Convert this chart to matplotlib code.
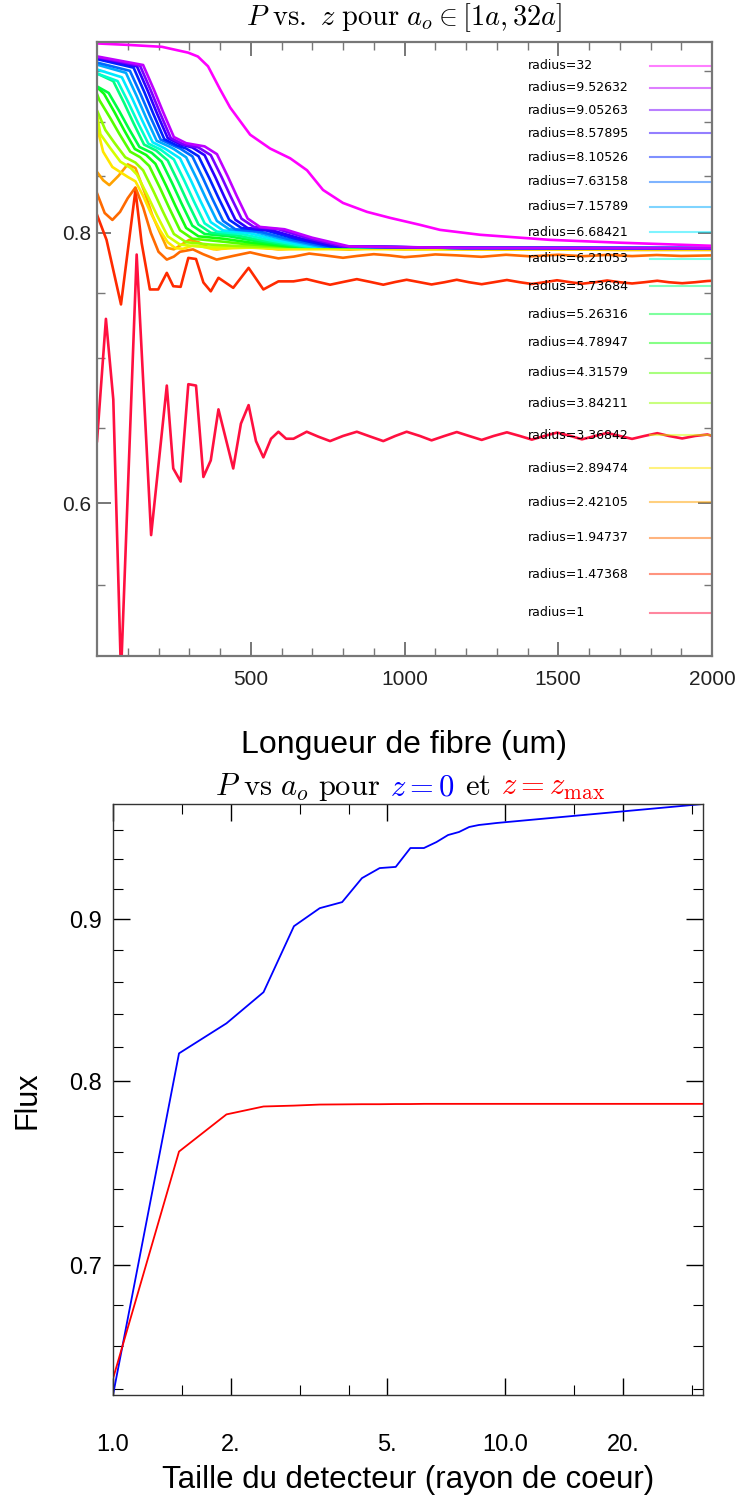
import matplotlib
matplotlib.use("Agg")
import matplotlib.pyplot as plt
from matplotlib.ticker import FixedLocator, FixedFormatter, NullFormatter
import numpy as np

plt.rcParams["mathtext.fontset"] = "cm"

# ---------------- data ----------------
radius = [1, 1.47368, 1.94737, 2.42105, 2.89474, 3.36842, 3.84211, 4.31579, 4.78947, 5.26316,
          5.73684, 6.21053, 6.68421, 7.15789, 7.63158, 8.10526, 8.57895, 9.05263, 9.52632, 32]
radius_labels = ["radius=1", "radius=1.47368", "radius=1.94737", "radius=2.42105", "radius=2.89474",
                 "radius=3.36842", "radius=3.84211", "radius=4.31579", "radius=4.78947", "radius=5.26316",
                 "radius=5.73684", "radius=6.21053", "radius=6.68421", "radius=7.15789", "radius=7.63158",
                 "radius=8.10526", "radius=8.57895", "radius=9.05263", "radius=9.52632", "radius=32"]

# flux at z=0 and z=zmax vs detector radius (bottom panel)
flux_z0 = [0.637, 0.8164, 0.8344, 0.8535, 0.8954, 0.9072, 0.9112, 0.9272, 0.934, 0.9348,
           0.9477, 0.9477, 0.9518, 0.9567, 0.9588, 0.9623, 0.9637, 0.9644, 0.9651, 0.9785]
flux_zmax = [0.6446, 0.7602, 0.781, 0.7855, 0.786, 0.7866, 0.7867, 0.7868, 0.7868, 0.7869,
             0.7869, 0.787, 0.787, 0.787, 0.787, 0.787, 0.787, 0.787, 0.787, 0.787]

# P vs z curves (top panel), one pair per radius
z_01 = [0, 29, 53, 78, 129, 176, 227, 248, 272, 297, 322, 346, 370, 395, 443, 468, 493, 517, 541,
        566, 590, 615, 639, 682, 720, 758, 800, 845, 890, 931, 970, 1007, 1050, 1088, 1130, 1170,
        1210, 1251, 1290, 1333, 1375, 1414, 1455, 1496, 1540, 1577, 1620, 1659, 1700, 1740, 1780,
        1822, 1860, 1903, 1945, 1985, 2000]
p_01 = [0.641, 0.730, 0.670, 0.500, 0.7817, 0.580, 0.680, 0.6226, 0.614, 0.681, 0.680, 0.617, 0.628,
        0.663, 0.6226, 0.653, 0.666, 0.641, 0.630, 0.6426, 0.6474, 0.6426, 0.6426, 0.6474, 0.644,
        0.641, 0.6445, 0.6474, 0.644, 0.641, 0.6445, 0.6474, 0.6445, 0.6415, 0.6445, 0.6472, 0.6445,
        0.6418, 0.6445, 0.647, 0.6445, 0.642, 0.6445, 0.6468, 0.6445, 0.6422, 0.6445, 0.6466, 0.6445,
        0.6425, 0.6445, 0.6464, 0.6445, 0.6428, 0.6445, 0.6455, 0.6446]

z_02 = [0, 31, 78, 125, 145, 172, 199, 227, 248, 272, 297, 322, 346, 370, 395, 443, 493, 541, 590,
        639, 682, 720, 758, 800, 845, 890, 931, 970, 1007, 1050, 1088, 1130, 1170, 1210, 1251, 1290,
        1333, 1375, 1414, 1455, 1496, 1540, 1577, 1620, 1659, 1700, 1740, 1780, 1822, 1860, 1903,
        1945, 1985, 2000]
p_02 = [0.8155, 0.794, 0.7413, 0.837, 0.7916, 0.7532, 0.7532, 0.7666, 0.7558, 0.7553, 0.7789, 0.778,
        0.7588, 0.7517, 0.7626, 0.7545, 0.7707, 0.7532, 0.7597, 0.7597, 0.7615, 0.7592, 0.757, 0.7592,
        0.7615, 0.7592, 0.757, 0.7592, 0.761, 0.759, 0.7572, 0.759, 0.761, 0.759, 0.7574, 0.759,
        0.7608, 0.759, 0.7576, 0.759, 0.7606, 0.759, 0.7578, 0.759, 0.7604, 0.759, 0.758, 0.759,
        0.7602, 0.759, 0.7582, 0.759, 0.760, 0.7602]

z_03 = [0, 25, 50, 75, 100, 125, 150, 175, 200, 227, 250, 270, 312, 345, 389, 442, 498, 540, 590,
        640, 690, 740, 800, 845, 900, 950, 1000, 1050, 1100, 1170, 1250, 1330, 1410, 1500, 1580,
        1660, 1740, 1820, 1900, 2000]
p_03 = [0.8344, 0.817, 0.811, 0.818, 0.830, 0.8395, 0.822, 0.800, 0.784, 0.7775, 0.780, 0.784, 0.786,
        0.782, 0.7775, 0.7805, 0.7835, 0.781, 0.7785, 0.780, 0.7825, 0.781, 0.779, 0.7805, 0.782,
        0.781, 0.7795, 0.7805, 0.7818, 0.781, 0.7798, 0.7815, 0.7802, 0.7815, 0.7803, 0.7814, 0.7804,
        0.7813, 0.7805, 0.781]

z_04 = [0, 20, 40, 70, 100, 125, 156, 180, 205, 227, 250, 275, 300, 330, 360, 389, 440, 498, 540,
        590, 640, 700, 760, 820, 900, 1000, 1100, 1300, 1500, 1700, 2000]
p_04 = [0.8535, 0.846, 0.8416, 0.850, 0.8604, 0.857, 0.8344, 0.815, 0.800, 0.7874, 0.786, 0.790,
        0.794, 0.792, 0.788, 0.786, 0.788, 0.7895, 0.7875, 0.786, 0.7868, 0.7878, 0.7865, 0.7858,
        0.787, 0.786, 0.7862, 0.7857, 0.786, 0.7855, 0.7855]

z_05 = [0, 20, 50, 100, 125, 150, 175, 205, 230, 255, 280, 310, 340, 380, 440, 500, 600, 800, 1200, 2000]
p_05 = [0.8954, 0.872, 0.858, 0.849, 0.845, 0.832, 0.817, 0.802, 0.792, 0.787, 0.7865, 0.789, 0.7885,
        0.786, 0.787, 0.7875, 0.786, 0.7862, 0.786, 0.786]

z_06 = [0, 11, 41, 76, 110, 130, 165, 195, 230, 270, 350, 440, 560, 1200, 2000]
p_06 = [0.9072, 0.8885, 0.8762, 0.8629, 0.857, 0.851, 0.832, 0.815, 0.797, 0.790, 0.788, 0.7878,
        0.7874, 0.787, 0.7866]

z_07 = [0, 27, 57, 92, 125, 150, 185, 215, 250, 290, 370, 460, 580, 1200, 2000]
p_07 = [0.9112, 0.8925, 0.8802, 0.8669, 0.862, 0.855, 0.8354, 0.8179, 0.799, 0.792, 0.790, 0.7888,
        0.788, 0.7872, 0.7867]

z_08 = [0, 8, 43, 73, 108, 140, 170, 205, 235, 270, 310, 390, 480, 600, 1200, 2000]
p_08 = [0.9272, 0.9211, 0.9039, 0.8886, 0.8721, 0.867, 0.8589, 0.839, 0.8213, 0.8021, 0.795, 0.793,
        0.7905, 0.7885, 0.7872, 0.7868]

z_09 = [0, 23, 58, 88, 123, 160, 190, 225, 255, 290, 330, 410, 500, 620, 1200, 2000]
p_09 = [0.934, 0.9274, 0.9089, 0.8924, 0.8746, 0.869, 0.8609, 0.841, 0.8233, 0.8041, 0.797, 0.795,
        0.7917, 0.7885, 0.7872, 0.7868]

z_10 = [0, 38, 73, 103, 138, 178, 210, 245, 275, 310, 350, 430, 520, 640, 1200, 2000]
p_10 = [0.9348, 0.9283, 0.9102, 0.894, 0.8765, 0.871, 0.8629, 0.843, 0.8253, 0.8061, 0.799, 0.797,
        0.7928, 0.7885, 0.7872, 0.7869]

z_11 = [0, 53, 88, 118, 153, 193, 230, 265, 295, 330, 370, 450, 540, 660, 1200, 2000]
p_11 = [0.9477, 0.940, 0.9186, 0.8994, 0.8787, 0.873, 0.8639, 0.844, 0.8263, 0.8071, 0.800, 0.798,
        0.7933, 0.7885, 0.7872, 0.7869]

z_12 = [0, 67, 102, 132, 167, 207, 250, 285, 315, 350, 390, 470, 560, 680, 1200, 2000]
p_12 = [0.9477, 0.9401, 0.9189, 0.900, 0.8796, 0.874, 0.8649, 0.845, 0.8273, 0.8081, 0.801, 0.799,
        0.7938, 0.7885, 0.7872, 0.787]

z_13 = [0, 81, 116, 146, 181, 221, 270, 305, 335, 370, 410, 490, 580, 700, 1200, 2000]
p_13 = [0.9518, 0.9439, 0.9219, 0.9022, 0.8809, 0.875, 0.8659, 0.846, 0.8283, 0.8091, 0.802, 0.800,
        0.7943, 0.7885, 0.7872, 0.787]

z_14 = [0, 94, 129, 159, 194, 234, 250, 290, 325, 355, 390, 430, 510, 600, 720, 1200, 2000]
p_14 = [0.9567, 0.9484, 0.9253, 0.9046, 0.8823, 0.877, 0.8745, 0.8669, 0.847, 0.8293, 0.8101, 0.803,
        0.801, 0.7948, 0.7885, 0.7872, 0.787]

z_15 = [0, 107, 142, 172, 207, 247, 270, 310, 345, 375, 410, 450, 530, 620, 740, 1200, 2000]
p_15 = [0.9588, 0.9504, 0.927, 0.906, 0.8834, 0.878, 0.875, 0.8678, 0.8476, 0.8296, 0.8102, 0.803,
        0.801, 0.7948, 0.7885, 0.7872, 0.787]

z_16 = [0, 119, 154, 184, 219, 259, 290, 330, 365, 395, 430, 470, 550, 640, 760, 1200, 2000]
p_16 = [0.9623, 0.9536, 0.9291, 0.9073, 0.8837, 0.878, 0.875, 0.8679, 0.848, 0.8303, 0.8111, 0.804,
        0.802, 0.7953, 0.7885, 0.7872, 0.787]

z_17 = [0, 130, 165, 195, 230, 270, 310, 350, 385, 415, 450, 490, 570, 660, 780, 1200, 2000]
p_17 = [0.9637, 0.9549, 0.9304, 0.9084, 0.8848, 0.879, 0.876, 0.8688, 0.8486, 0.8306, 0.8112, 0.804,
        0.802, 0.7953, 0.7885, 0.7872, 0.787]

z_18 = [0, 140, 175, 205, 240, 280, 330, 370, 405, 435, 470, 510, 590, 680, 800, 1200, 2000]
p_18 = [0.9644, 0.9556, 0.9308, 0.9087, 0.8848, 0.879, 0.876, 0.8689, 0.849, 0.8313, 0.8121, 0.805,
        0.803, 0.7958, 0.7885, 0.7872, 0.787]

z_19 = [0, 150, 185, 215, 250, 290, 350, 390, 425, 455, 490, 530, 610, 700, 820, 1200, 2000]
p_19 = [0.9651, 0.9563, 0.9316, 0.9096, 0.8858, 0.880, 0.877, 0.8698, 0.8496, 0.8316, 0.8122, 0.805,
        0.803, 0.7958, 0.7885, 0.7872, 0.787]

z_20 = [0, 100, 211, 296, 328, 361, 400, 433, 498, 563, 628, 683, 735, 800, 878, 953, 1050, 1115,
        1246, 1473, 1701, 2000]
p_20 = [0.9785, 0.977, 0.975, 0.969, 0.965, 0.955, 0.932, 0.914, 0.888, 0.875, 0.866, 0.855, 0.8373,
        0.8258, 0.818, 0.8128, 0.8068, 0.8025, 0.7983, 0.794, 0.7916, 0.789]

curves_z = [z_01, z_02, z_03, z_04, z_05, z_06, z_07, z_08, z_09, z_10,
            z_11, z_12, z_13, z_14, z_15, z_16, z_17, z_18, z_19, z_20]
curves_p = [p_01, p_02, p_03, p_04, p_05, p_06, p_07, p_08, p_09, p_10,
            p_11, p_12, p_13, p_14, p_15, p_16, p_17, p_18, p_19, p_20]

colors = ["#ff1040", "#ff2a00", "#ff6a00", "#ffa200", "#ffe600", "#d4ff00", "#95ff00", "#55ff00",
          "#10ff10", "#00ff40", "#00ff80", "#00ffcc", "#00eaff", "#00aaff", "#006aff", "#0022ff",
          "#2a00ff", "#7700ff", "#bf00ff", "#ff00ff"]

W, H = 746, 1501
fig = plt.figure(figsize=(W / 100, H / 100), dpi=100)

# ---------------- top panel ----------------
ax1 = fig.add_axes([97 / W, 1 - 656 / H, 615 / W, 614 / H])
for zz, pp, c in zip(curves_z, curves_p, colors):
    ax1.plot(zz, pp, color=c, lw=1.9, solid_joinstyle="round")

ax1.set_yscale("log")
ax1.set_xlim(0, 2000)
ax1.set_ylim(0.51, 0.98)

# legend drawn in data coordinates like the original
leg_y = np.linspace(0.9557, 0.534, 20)
for i, (lab, c) in enumerate(zip(radius_labels[::-1], colors[::-1])):
    ax1.text(1402, leg_y[i], lab, fontsize=9, va="center", ha="left", family="DejaVu Sans")
    ax1.plot([1798, 2000], [leg_y[i], leg_y[i]], color=c, lw=1.5, alpha=0.5)

ax1.yaxis.set_major_locator(FixedLocator([0.6, 0.8]))
ax1.yaxis.set_major_formatter(FixedFormatter(["0.6", "0.8"]))
ax1.yaxis.set_minor_locator(FixedLocator([0.55, 0.65, 0.7, 0.75, 0.85, 0.9, 0.95]))
ax1.yaxis.set_minor_formatter(NullFormatter())
ax1.xaxis.set_major_locator(FixedLocator([500, 1000, 1500, 2000]))
ax1.xaxis.set_minor_locator(FixedLocator([z for z in range(100, 2000, 100) if z % 500]))
for sp in ax1.spines.values():
    sp.set_color("#777777")
    sp.set_linewidth(1.6)
ax1.tick_params(which="both", direction="in", top=True, right=True, colors="#777777",
                labelcolor="#222222", labelsize=15)
ax1.tick_params(which="major", length=10, width=1.4)
ax1.tick_params(which="minor", length=6, width=1.0)
ax1.tick_params(axis="x", pad=10)
ax1.tick_params(axis="y", pad=4)
for lab in ax1.get_xticklabels() + ax1.get_yticklabels():
    lab.set_family("Liberation Sans")

fig.text(404 / W, 1 - 25 / H, r"$P\ \mathrm{vs.}\ z\ \mathrm{pour}\ a_o \in [1a, 32a]$",
         ha="center", va="baseline", fontsize=20.5)
fig.text(404 / W, 1 - 745 / H, "Longueur de fibre (um)", ha="center", va="center",
         fontsize=23, family="Liberation Sans")

# ---------------- bottom panel ----------------
ax2 = fig.add_axes([113 / W, 1 - 1395 / H, 590 / W, 591 / H])
ax2.plot(radius, flux_z0, color="blue", lw=1.3)
ax2.plot(radius, flux_zmax, color="red", lw=1.3)
ax2.set_xscale("log")
ax2.set_yscale("log")
ax2.set_xlim(1, 32)
ax2.set_ylim(min(flux_z0), max(flux_z0))

ax2.xaxis.set_major_locator(FixedLocator([1, 2, 5, 10, 20]))
ax2.xaxis.set_major_formatter(FixedFormatter(["1.0", "2.", "5.", "10.0", "20."]))
ax2.xaxis.set_minor_locator(FixedLocator([1.5, 3, 4, 15, 30]))
ax2.xaxis.set_minor_formatter(NullFormatter())
ax2.yaxis.set_major_locator(FixedLocator([0.7, 0.8, 0.9]))
ax2.yaxis.set_major_formatter(FixedFormatter(["0.7", "0.8", "0.9"]))
ax2.yaxis.set_minor_locator(FixedLocator([0.64, 0.66, 0.68, 0.72, 0.74, 0.76, 0.78,
                                          0.82, 0.84, 0.86, 0.88, 0.92, 0.94, 0.96]))
ax2.yaxis.set_minor_formatter(NullFormatter())
for sp in ax2.spines.values():
    sp.set_color("#333333")
    sp.set_linewidth(1.0)
ax2.tick_params(which="both", direction="in", top=True, right=True, labelsize=17)
ax2.tick_params(which="major", length=12, width=1.0)
ax2.tick_params(which="minor", length=7, width=0.8)
ax2.tick_params(axis="x", pad=28)
ax2.tick_params(axis="y", pad=8)
for lab in ax2.get_xticklabels() + ax2.get_yticklabels():
    lab.set_family("Liberation Sans")

fig.text(408 / W, 1 - 1480 / H, "Taille du detecteur (rayon de coeur)", ha="center", va="center",
         fontsize=22.5, family="Liberation Sans")
fig.text(28 / W, 1 - 1100 / H, "Flux", ha="center", va="center", rotation=90,
         fontsize=22, family="Liberation Sans")

# multi-coloured title
pieces = [(r"$P\ \mathrm{vs}\ a_o\ \mathrm{pour}$", "black"), (r"$z=0$", "blue"),
          (r"$\mathrm{et}$", "black"), (r"$z=z_{\max}$", "red")]
tts = [fig.text(0, 1 - 795 / H, s, color=c, fontsize=22, va="baseline") for s, c in pieces]
fig.canvas.draw()
rend = fig.canvas.get_renderer()
widths = [t.get_window_extent(rend).width for t in tts]
gap = 10
x = 410 - (sum(widths) + gap * (len(widths) - 1)) / 2
for t, w in zip(tts, widths):
    t.set_x(x / W)
    x += w + gap

fig.savefig("out.png", dpi=100)
